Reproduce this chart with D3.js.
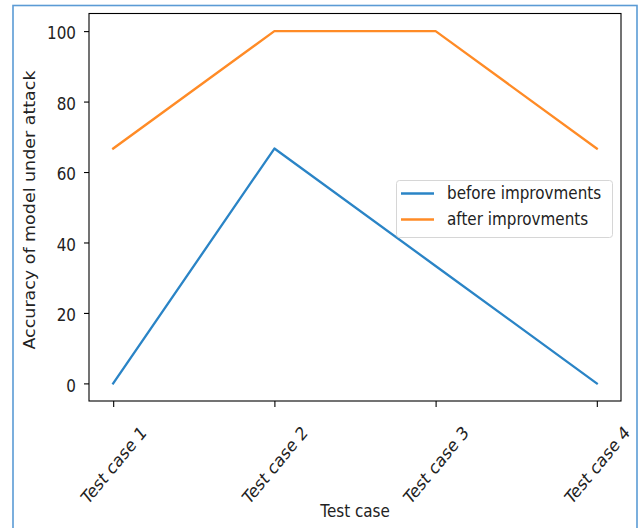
<!DOCTYPE html>
<html>
<head>
<meta charset="utf-8">
<script src="https://cdn.jsdelivr.net/npm/d3@7"></script>
<style>
  body { margin: 0; background: #fff; }
  text { font-family: "DejaVu Sans", sans-serif; fill: #222; }
</style>
</head>
<body>
<div class="graph"></div>
<script>
// data
const cases = ["Test case 1", "Test case 2", "Test case 3", "Test case 4"];
const beforeValues = [0, 66.67, 33.33, 0];
const afterValues = [66.67, 100, 100, 66.67];
const yTicks = [0, 20, 40, 60, 80, 100];
const seriesNames = ["before improvments", "after improvments"];
const seriesColors = ["#2a84c6", "#ff8b26"];

const W = 644, H = 528;
const plotLeft = 89, plotRight = 621, plotTop = 13.5, plotBottom = 401;
const fs = 15.2;  // font size across
const sy = 1.15;  // picture is stretched vertically

const svg = d3.select(".graph").append("svg")
  .attr("width", W).attr("height", H);

svg.append("rect").attr("width", W).attr("height", H).attr("fill", "#fff");

// blue frame round the screenshot
svg.append("rect")
  .attr("x", 13).attr("y", 5.5)
  .attr("width", 624).attr("height", 540)
  .attr("fill", "none")
  .attr("stroke", "#5b9bd5")
  .attr("stroke-width", 1.6);

const x = d3.scaleLinear().domain([-0.15, 3.15]).range([plotLeft, plotRight]);
const y = d3.scaleLinear().domain([-5, 105]).range([plotBottom, plotTop]);

// y axis
const yAxis = svg.append("g")
  .attr("transform", "translate(" + plotLeft + ",0)")
  .call(d3.axisLeft(y).tickValues(yTicks).tickSize(5).tickPadding(7).tickSizeOuter(0));
yAxis.select(".domain").remove();
yAxis.selectAll(".tick line").attr("stroke", "#000").attr("stroke-width", 1.1);
yAxis.selectAll(".tick text")
  .attr("font-size", fs)
  .attr("x", null).attr("dy", null)
  .attr("dominant-baseline", "central")
  .attr("transform", "translate(-13,2) scale(1," + sy + ")");

// x axis
const xAxis = svg.append("g")
  .attr("transform", "translate(0," + plotBottom + ")")
  .call(d3.axisBottom(x).tickValues(d3.range(cases.length))
    .tickFormat(i => cases[i]).tickSize(6).tickSizeOuter(0));
xAxis.select(".domain").remove();
xAxis.selectAll(".tick line").attr("stroke", "#000").attr("stroke-width", 1.1);
xAxis.selectAll(".tick text")
  .attr("font-size", fs)
  .attr("y", null).attr("dy", null)
  .attr("text-anchor", "middle")
  .attr("dominant-baseline", "central")
  .attr("transform", "translate(0,64) scale(1," + (sy * 1.05) + ") rotate(-45)");

// lines
const line = d3.line()
  .x((d, i) => x(i))
  .y(d => y(d));

[beforeValues, afterValues].forEach(function(vals, k) {
  svg.append("path")
    .datum(vals)
    .attr("d", line)
    .attr("fill", "none")
    .attr("stroke", seriesColors[k])
    .attr("stroke-width", 2.3)
    .attr("stroke-linejoin", "round")
    .attr("stroke-linecap", "square");
});

// axes frame
svg.append("rect")
  .attr("x", plotLeft).attr("y", plotTop)
  .attr("width", plotRight - plotLeft).attr("height", plotBottom - plotTop)
  .attr("fill", "none")
  .attr("stroke", "#000")
  .attr("stroke-width", 1.1);

// legend
const legend = svg.append("g");
legend.append("rect")
  .attr("x", 396.5).attr("y", 180.5)
  .attr("width", 216).attr("height", 57)
  .attr("rx", 3)
  .attr("fill", "#fff").attr("fill-opacity", 0.8)
  .attr("stroke", "#d6d6d6");
seriesNames.forEach(function(name, k) {
  const ly = 193.5 + k * 26;
  legend.append("line")
    .attr("x1", 401).attr("x2", 434)
    .attr("y1", ly).attr("y2", ly)
    .attr("stroke", seriesColors[k])
    .attr("stroke-width", 2.3);
  legend.append("text")
    .attr("font-size", fs)
    .attr("dominant-baseline", "central")
    .attr("transform", "translate(447," + ly + ") scale(1," + sy + ")")
    .text(name);
});

// axis titles
svg.append("text")
  .attr("font-size", fs)
  .attr("text-anchor", "middle")
  .attr("transform", "translate(" + (plotLeft + plotRight) / 2 + ",517) scale(1," + sy + ")")
  .text("Test case");

svg.append("text")
  .attr("font-size", fs)
  .attr("text-anchor", "middle")
  .attr("transform", "translate(35,210) scale(1," + sy + ") rotate(-90)")
  .text("Accuracy of model under attack");
</script>
</body>
</html>
